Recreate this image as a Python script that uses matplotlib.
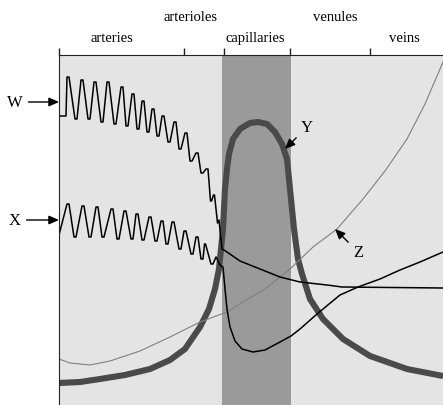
import matplotlib.pyplot as plt

# DATA (position along the vessel tree, relative value)

vessel_names = ["arteries", "arterioles", "capillaries", "venules", "veins"]
vessel_label_pos = [53, 132, 196, 276, 345]
vessel_label_row = [0, 1, 0, 1, 0]
vessel_bounds = [0, 125, 165, 231, 311]
capillary_band = [163, 232]

# W - pulsatile curve (upper)
w_x = [0, 7,
       8, 10, 16, 18,
       22, 24, 29, 31,
       35, 37, 42, 44,
       48, 50, 55, 57,
       62, 64, 67, 69,
       73, 75, 78, 80,
       83, 85, 88, 90,
       93, 95, 98, 100,
       103, 105, 109, 111,
       115, 117, 120, 122,
       126, 128, 131, 133,
       137, 139, 142, 144,
       147, 149, 151.5, 152.5,
       154.5, 155.5, 158.5, 160, 163,
       165, 181, 196, 221, 241, 268, 283, 384]
w_y = [289, 289,
       328, 328, 286, 286,
       325, 325, 286, 286,
       323, 323, 283, 283,
       323, 323, 281, 281,
       318, 318, 279, 279,
       311, 311, 276, 276,
       304, 304, 273, 273,
       296, 296, 269, 269,
       289, 289, 263, 263,
       283, 283, 256, 256,
       272, 272, 244, 244,
       252, 252, 232, 232,
       236, 236, 204, 204,
       210, 210, 182, 185, 156,
       155, 144, 138, 128, 123, 120, 118, 117]

# X - pulsatile curve (lower)
x_x = [0,
       8, 10, 15, 17,
       23, 25, 30, 32,
       37, 39, 43, 45,
       52, 54, 58, 60,
       65, 67, 72, 74,
       77, 79, 83, 85,
       90, 92, 96, 98,
       102, 104, 107, 109,
       113, 115, 120, 122,
       125, 127, 132, 134,
       137, 139, 142, 144,
       145.5, 146.5, 152, 154,
       157, 161,
       164, 166, 168, 171, 176, 183, 194, 206, 221, 232, 241, 258, 281,
       299, 321, 341, 361, 384]
x_y = [170,
       201, 201, 168, 168,
       199, 199, 168, 168,
       198, 198, 168, 168,
       196, 196, 166, 166,
       194, 194, 166, 166,
       191, 191, 165, 165,
       188, 188, 164, 164,
       184, 184, 161, 161,
       183, 183, 156, 156,
       174, 174, 151, 151,
       168, 168, 146, 146,
       161, 161, 141, 141,
       148, 140,
       138, 116, 96, 78, 64, 56, 53, 55, 63, 69, 76, 91, 110,
       118, 126, 135, 143, 153]

# Y - thick peaked curve
y_x = [0, 21, 41, 66, 91, 111, 126, 141, 150, 156, 160, 162, 164, 165, 166,
       168, 170, 174, 181, 191, 199, 208, 216, 223, 228, 230, 232, 235, 239,
       243, 251, 264, 284, 311, 348, 384]
y_y = [22, 23, 26, 30, 36, 45, 56, 78, 96, 116, 136, 156, 176, 196, 216,
       236, 251, 266, 276, 282, 283, 281, 273, 261, 246, 226, 206, 176, 146,
       131, 106, 86, 66, 49, 36, 29]

# Z - thin rising curve
z_x = [0, 11, 31, 51, 81, 111, 141, 168, 184, 206, 231, 254, 278, 304,
       326, 348, 366, 384]
z_y = [46, 42, 40, 44, 54, 68, 83, 93, 103, 116, 136, 158, 176, 206,
       234, 266, 301, 343]

# FIGURE

fig = plt.figure(figsize=(4.43, 4.06), dpi=100)
ax = fig.add_axes([59 / 443, 0, 1 - 59 / 443, 350 / 406])

ax.set_xlim(0, 384)
ax.set_ylim(0, 350)
ax.set_facecolor('#e4e4e4')

ax.axvspan(capillary_band[0], capillary_band[1], color='#9a9a9a', lw=0)

ax.plot(y_x, y_y, color='#4a4a4a', lw=4.4, solid_capstyle='butt')
ax.plot(z_x, z_y, color='#808080', lw=0.8)
ax.plot(w_x, w_y, color='black', lw=1.1)
ax.plot(x_x, x_y, color='black', lw=1.1)

# spines and top ticks
for side in ['right', 'bottom']:
    ax.spines[side].set_visible(False)
ax.spines['left'].set_color('#222222')
ax.spines['top'].set_color('#222222')

ax.xaxis.tick_top()
ax.set_xticks(vessel_bounds)
ax.set_xticklabels([])
ax.tick_params(axis='x', direction='out', length=5, width=1, color='#222222')
ax.set_yticks([])

# vessel names above the axes
trans = ax.get_xaxis_transform()
for name, pos, row in zip(vessel_names, vessel_label_pos, vessel_label_row):
    ax.text(pos, 1.049 + 0.06 * row, name, transform=trans,
            ha='center', va='center', family='Liberation Serif',
            fontsize=10.5)

# curve labels with arrows
arrow = dict(arrowstyle='-|>,head_length=0.5,head_width=0.22',
             color='black', lw=1, shrinkA=2, shrinkB=0)
font = dict(family='Liberation Serif', fontsize=12,
            ha='center', va='center')

ax.annotate('W', xy=(0, 303), xytext=(-44, 303), arrowprops=arrow,
            annotation_clip=False, **font)
ax.annotate('X', xy=(0, 185), xytext=(-44, 185), arrowprops=arrow,
            annotation_clip=False, **font)
ax.annotate('Y', xy=(226, 256), xytext=(248, 278), arrowprops=arrow, **font)
ax.annotate('Z', xy=(276, 176), xytext=(299, 153), arrowprops=arrow, **font)

plt.savefig('out.png', dpi=100)
plt.close()
